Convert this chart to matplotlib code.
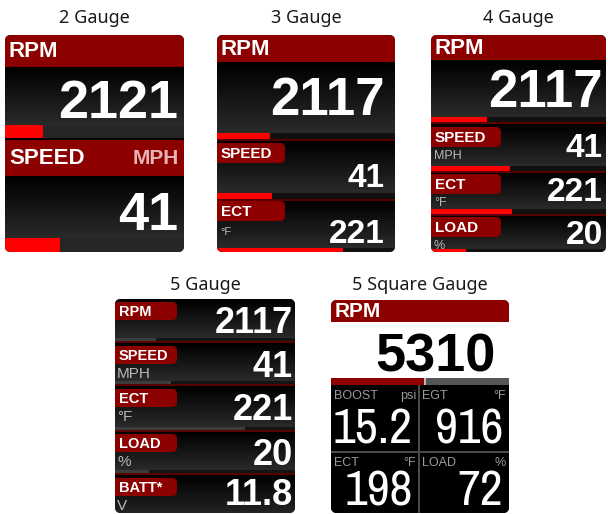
import numpy as np
import matplotlib
matplotlib.use('Agg')
import matplotlib.pyplot as plt
from matplotlib.patches import Rectangle, FancyBboxPatch
from matplotlib.colors import LinearSegmentedColormap
from matplotlib import font_manager
from matplotlib.font_manager import FontProperties

# ---------------- data ----------------
titles = ["2 Gauge", "3 Gauge", "4 Gauge", "5 Gauge", "5 Square Gauge"]

g2_labels = ["RPM", "SPEED"]
g2_units = ["", "MPH"]
g2_values = ["2121", "41"]
g2_fill = [0.21, 0.31]

g3_labels = ["RPM", "SPEED", "ECT"]
g3_units = ["", "", "°F"]
g3_values = ["2117", "41", "221"]
g3_fill = [0.30, 0.31, 0.71]

g4_labels = ["RPM", "SPEED", "ECT", "LOAD"]
g4_units = ["", "MPH", "°F", "%"]
g4_values = ["2117", "41", "221", "20"]
g4_fill = [0.32, 0.45, 0.46, 0.20]

g5_labels = ["RPM", "SPEED", "ECT", "LOAD", "BATT*"]
g5_units = ["", "MPH", "°F", "%", "V"]
g5_values = ["2117", "41", "221", "20", "11.8"]
g5_fill = [0.23, 0.31, 0.72, 0.19, 0.0]

sq_label = "RPM"
sq_value = "5310"
sq_fill = 0.53
sq_cell_labels = ["BOOST", "EGT", "ECT", "LOAD"]
sq_cell_units = ["psi", "°F", "°F", "%"]
sq_cell_values = ["15.2", "916", "198", "72"]

# ---------------- style ----------------
HDR = '#8c0000'
BAR = '#ff0000'
LINE = '#5a0000'
UNIT = '#b8b8b8'
BOLD = 'Liberation Sans'
TITLE_FONT = 'Noto Sans'

# look for a condensed / narrow regular face for the square gauge numbers
cands = []
for f in font_manager.fontManager.ttflist:
    narrowish = ('Narrow' in f.name or 'Condensed' in f.name or 'Condensed' in f.fname
                 or f.stretch in ('condensed', 'semi-condensed', 'extra-condensed'))
    if narrowish and f.style == 'normal' and f.weight in (300, 400, 'normal', 'regular', 'light'):
        cands.append(f)
cands.sort(key=lambda f: (0 if 'Narrow' in f.name else 1, f.fname))
if cands:
    NUM_FP = FontProperties(fname=cands[0].fname)
    NUM_SIZE = 36
else:
    NUM_FP = FontProperties(family='Liberation Sans')
    NUM_SIZE = 29

fig = plt.figure(figsize=(6.08, 5.14), dpi=100)
ax = fig.add_axes([0, 0, 1, 1])
ax.axis('off')

grad_cmap = LinearSegmentedColormap.from_list('g', ['#000000', '#2a2a2a'])


def panel(x0, x1, y0, y1, fc='black'):
    p = FancyBboxPatch((x0, y0), x1 - x0, y1 - y0,
                       boxstyle='round,pad=0,rounding_size=6',
                       fc=fc, ec='none', lw=0, zorder=0)
    ax.add_patch(p)
    return p


def rect(x0, x1, y0, y1, color, clip, z=2):
    r = Rectangle((x0, y0), x1 - x0, y1 - y0, fc=color, ec='none', lw=0, zorder=z)
    ax.add_patch(r)
    r.set_clip_path(clip)
    return r


def grad(x0, x1, y0, y1, clip):
    im = ax.imshow(np.linspace(0, 1, 64).reshape(-1, 1), cmap=grad_cmap,
                   extent=(x0, x1, y1, y0), aspect='auto', origin='upper',
                   interpolation='bilinear', zorder=1)
    im.set_clip_path(clip)


def tab(x0, x1, y0, y1, clip):
    t = FancyBboxPatch((x0 - 10, y0), x1 - x0 + 10, y1 - y0,
                       boxstyle='round,pad=0,rounding_size=5',
                       fc=HDR, ec='none', lw=0, zorder=3)
    ax.add_patch(t)
    t.set_clip_path(clip)


def txt(x, y, s, size, color='white', weight='bold', ha='left', va='baseline', family=BOLD):
    ax.text(x, y, s, fontsize=size, color=color, fontweight=weight, ha=ha, va=va,
            family=family, zorder=5)


def title(xc, y, s):
    ax.text(xc, y, s, fontsize=13, color='#1a1a1a', ha='center', va='center',
            family=TITLE_FONT, zorder=5)


# ---------------- 2 gauge ----------------
x0, x1, y0, y1 = 5, 184, 35, 252
title((x0 + x1) / 2, 18, titles[0])
p = panel(x0, x1, y0, y1)
W = x1 - x0
secs = [(35, 67, 125, 138, 118), (140, 176, 238, 252, 230)]
for i, (ht, hb, bt, bb, base) in enumerate(secs):
    rect(x0, x1, ht, hb, HDR, p)
    grad(x0, x1, hb, bt, p)
    rect(x0, x1, bt, bb, '#262626', p)
    rect(x0, x0 + g2_fill[i] * W, bt, bb, BAR, p, z=3)
    txt(x0 + 4, (ht + hb) / 2 + 6, g2_labels[i], 16)
    if g2_units[i]:
        txt(x1 - 5, (ht + hb) / 2 + 6, g2_units[i], 15, color='#e6b4b4', ha='right')
    txt(x1 - 6, base, g2_values[i], 39, ha='right')

# ---------------- 3 gauge ----------------
x0, x1, y0, y1 = 217, 395, 35, 252
title((x0 + x1) / 2, 18, titles[1])
p = panel(x0, x1, y0, y1)
W = x1 - x0
rect(x0, x1, 35, 62, HDR, p)
txt(x0 + 4, 55, g3_labels[0], 16)
rows3 = [(62, 133, 115, 38), (141, 193, 187, 24), (199, 248, 243, 24)]
for i, (top, bt, base, size) in enumerate(rows3):
    grad(x0, x1, top, bt, p)
    rect(x0, x1, bt, bt + 6, '#101010', p)
    rect(x0, x1, bt + 6, bt + 8, LINE, p)
    rect(x0, x0 + g3_fill[i] * W, bt, bt + 6, BAR, p, z=3)
    if i > 0:
        tab(x0, x0 + 68, top + 2, top + 22, p)
        txt(x0 + 4, top + 17, g3_labels[i], 11)
        if g3_units[i]:
            txt(x0 + 3, top + 36, g3_units[i], 8, color=UNIT, weight='normal')
    txt(x1 - 10, base, g3_values[i], size, ha='right')

# ---------------- 4 gauge ----------------
x0, x1, y0, y1 = 431, 606, 35, 252
title((x0 + x1) / 2, 18, titles[2])
p = panel(x0, x1, y0, y1)
W = x1 - x0
rect(x0, x1, 35, 60, HDR, p)
txt(x0 + 4, 54, g4_labels[0], 16)
rows4 = [(60, 117, 107, 38), (125, 166, 157, 24), (172, 209, 201, 24), (215, 249, 244, 24)]
for i, (top, bt, base, size) in enumerate(rows4):
    grad(x0, x1, top, bt, p)
    rect(x0, x1, bt, bt + 5, '#101010', p)
    rect(x0, x1, bt + 5, bt + 7, LINE, p)
    rect(x0, x0 + g4_fill[i] * W, bt, bt + 5, BAR, p, z=3)
    if i > 0:
        tab(x0, x0 + 70, top + 2, top + 22, p)
        txt(x0 + 4, top + 17, g4_labels[i], 11)
        if g4_units[i]:
            txt(x0 + 3, top + 34, g4_units[i], 9, color=UNIT, weight='normal')
    txt(x1 - 3, base, g4_values[i], size, ha='right')

# ---------------- 5 gauge ----------------
x0, x1, y0, y1 = 115, 295, 299, 513
title((x0 + x1) / 2, 285, titles[3])
p = panel(x0, x1, y0, y1)
W = x1 - x0
rows5 = [(299, 338, 333), (343, 381, 377), (386, 427, 420), (431, 470, 465), (475, 520, 505)]
for i, (top, bt, base) in enumerate(rows5):
    grad(x0, x1, top, bt, p)
    if bt < 513:
        rect(x0, x1, bt, bt + 3, '#141414', p)
        rect(x0, x1, bt + 3, bt + 5, LINE, p)
        rect(x0, x0 + g5_fill[i] * W, bt, bt + 3, '#3c3c3c', p, z=3)
    tab(x0, x0 + 62, top + 3, top + 21, p)
    txt(x0 + 4, top + 17, g5_labels[i], 10.5)
    if g5_units[i]:
        txt(x0 + 2, top + 35, g5_units[i], 11, color=UNIT, weight='normal')
    txt(x1 - 2, base, g5_values[i], 26, ha='right')

# ---------------- 5 square gauge ----------------
x0, x1, y0, y1 = 331, 509, 300, 513
title((x0 + x1) / 2, 285, titles[4])
p = panel(x0, x1, y0, y1)
W = x1 - x0
rect(x0, x1, 300, 322, HDR, p)
rect(x0, x1, 322, 378, 'white', p)
txt(x0 + 4, 317, sq_label, 15)
txt(x1 - 13, 372, sq_value, 39, color='black', ha='right')
rect(x0, x1, 378, 385, '#555555', p)
rect(x0, x0 + sq_fill * W, 378, 385, HDR, p, z=3)
rect(x0 + sq_fill * W - 1, x0 + sq_fill * W + 1, 378, 385, '#bbbbbb', p, z=4)
xm, ym = 419, 452
rect(x0, x1, 385, 514, 'black', p)
rect(xm - 1, xm + 1, 385, 514, '#4a4a4a', p, z=3)
rect(x0, x1, ym - 1, ym + 1, '#4a4a4a', p, z=3)
cells = [(x0, xm, 385, 443), (xm, x1, 385, 443), (x0, xm, ym, 505), (xm, x1, ym, 505)]
for i, (cx0, cx1, cy0, base) in enumerate(cells):
    txt(cx0 + 3, cy0 + 14, sq_cell_labels[i], 9, color='#9a9a9a', weight='normal')
    txt(cx1 - 3, cy0 + 14, sq_cell_units[i], 9, color='#9a9a9a', weight='normal', ha='right')
    ax.text(cx1 - 6, base, sq_cell_values[i], fontproperties=NUM_FP, fontsize=NUM_SIZE,
            color='white', ha='right', va='baseline', zorder=5)

ax.set_xlim(0, 608)
ax.set_ylim(514, 0)
fig.savefig('out.png', dpi=100)
